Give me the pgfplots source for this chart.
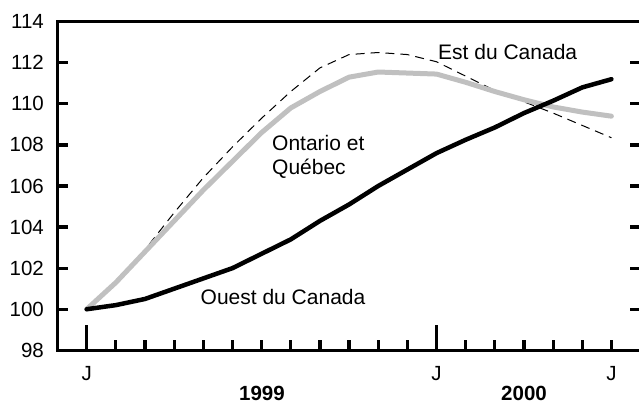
\documentclass[border=0pt]{standalone}
\usepackage{pgfplots}
\pgfplotsset{compat=1.18}
\usepackage{fontspec}
\setmainfont{Liberation Sans}
\definecolor{lgray}{RGB}{192,192,192}
\begin{document}
\begin{tikzpicture}[font=\fontsize{21}{24}\selectfont]
\begin{axis}[
  at={(57.55pt,54.7pt)}, anchor=south west,
  scale only axis, width=583pt, height=328.6pt,
  xmin=-1, xmax=19, ymin=98, ymax=114,
  /pgf/number format/assume math mode=true,
  axis line style={line width=3.5pt},
  tick style={line width=3.2pt, black},
  major tick length=10.5pt,
  tick align=inside,
  ytick={98,100,...,114},
  ytick pos=both, yticklabel pos=left,
  yticklabel style={anchor=east, inner sep=0pt, xshift=-13.5pt},
  xtick={0,...,18},
  xticklabels={J,,,,,,,,,,,,J,,,,,,J},
  xtick pos=left,
  xticklabel style={anchor=base, inner sep=0pt, yshift=-30.5pt},
  extra x ticks={0,12},
  extra x tick labels={},
  extra x tick style={major tick length=25pt},
  tick label style={font=\fontsize{20.5}{24}\selectfont},
]
% Est du Canada (dashed)
\addplot[black, line width=1pt, dash pattern=on 9pt off 6pt] coordinates {
(0,100) (1,101.3) (2,102.9) (3,104.7) (4,106.4) (5,107.9) (6,109.3) (7,110.6)
(8,111.75) (9,112.4) (10,112.5) (11,112.4) (12,112.05) (13,111.35) (14,110.65)
(15,110.1) (16,109.55) (17,108.95) (18,108.35)};
% Ontario et Quebec (gray thick)
\addplot[lgray, line width=5pt, line join=round, line cap=round] coordinates {
(0,100) (1,101.3) (2,102.8) (3,104.3) (4,105.8) (5,107.2) (6,108.6) (7,109.8)
(8,110.6) (9,111.3) (10,111.55) (11,111.5) (12,111.45) (13,111.05) (14,110.6)
(15,110.2) (16,109.85) (17,109.6) (18,109.4)};
% Ouest du Canada (black thick)
\addplot[black, line width=4.5pt, line join=round, line cap=round] coordinates {
(0,100) (1,100.2) (2,100.5) (3,101.0) (4,101.5) (5,102.0) (6,102.7) (7,103.4)
(8,104.3) (9,105.1) (10,106.0) (11,106.8) (12,107.6) (13,108.25) (14,108.85)
(15,109.55) (16,110.15) (17,110.8) (18,111.2)};
\end{axis}
\node[anchor=base west, inner sep=0pt] at (438pt,345pt) {Est du Canada};
\node[anchor=base west, inner sep=0pt] at (272pt,254.5pt) {Ontario et};
\node[anchor=base west, inner sep=0pt] at (272pt,231pt) {Québec};
\node[anchor=base west, inner sep=0pt] at (200.5pt,101pt) {Ouest du Canada};
\node[anchor=base, inner sep=0pt, font=\fontsize{20.5}{24}\selectfont\bfseries] at (262pt,5pt) {1999};
\node[anchor=base, inner sep=0pt, font=\fontsize{20.5}{24}\selectfont\bfseries] at (524pt,5pt) {2000};
\pgfresetboundingbox
\path[use as bounding box] (0,0) rectangle (639pt,405pt);
\end{tikzpicture}
\end{document}
